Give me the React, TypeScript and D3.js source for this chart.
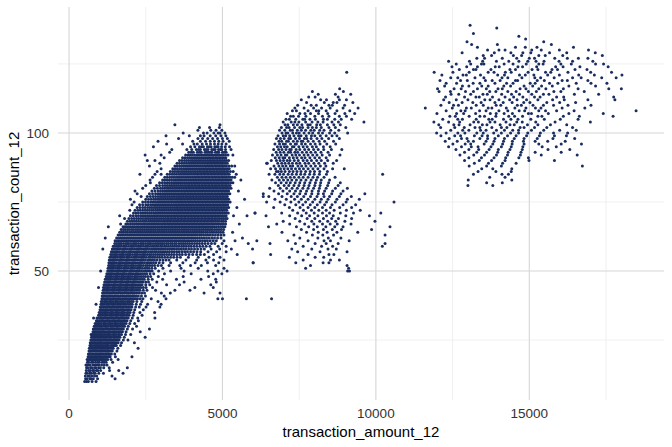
import React from "react";
import * as d3 from "d3";

// transaction_count_12 -> transaction_amount_12 values (in tens)
const mainRows: [number, string][] = [
  [10, "51 57 63 75 88"],
  [11, "54 59 68 71 79 93 150"],
  [12, "53 62 66 74 83 90 140"],
  [13, "55 59 67 72 80 85 97 112 176"],
  [14, "56 64 69 77 81 89 94 103 132 162"],
  [15, "57 61 70 74 83 87 96 102 113 131 190"],
  [16, "55 58 65 69 78 85 91 97 106 115 124"],
  [17, "60 64 73 78 86 93 99 108 114 121 142"],
  [18, "59 68 72 81 88 95 103 109 117 126 137 160"],
  [19, "62 67 76 83 90 97 102 111 119 128 134 151 205"],
  [20, "63 71 76 85 92 99 106 114 121 129 138 149"],
  [21, "65 70 79 87 94 101 108 116 124 130 141 156"],
  [22, "66 74 81 88 96 103 111 119 127 136 144 159 225"],
  [23, "68 73 83 91 98 106 114 122 128 139 147 154 168"],
  [24, "69 77 85 93 101 107 117 125 133 141 150 160 171 213"],
  [25, "71 79 86 95 103 111 119 127 136 145 152 163 177 192"],
  [26, "73 81 89 97 105 113 121 130 137 148 157 166 180 248"],
  [27, "72 75 83 91 99 107 116 125 132 143 150 161 171 184 201"],
  [28, "78 85 93 101 110 117 128 135 146 155 164 174 186 232"],
  [29, "79 87 96 105 112 123 130 141 148 159 168 177 190 207 262"],
  [30, "82 90 99 106 117 124 135 142 153 160 171 181 193 220"],
  [31, "85 94 101 112 119 130 137 148 155 166 175 186 198 214"],
  [32, "89 98 107 114 125 132 143 150 161 168 179 189 201 226"],
  [33, "80 91 102 109 120 127 138 145 156 163 174 181 193 206 224 280"],
  [34, "96 103 114 121 132 139 150 157 168 175 186 196 209 238"],
  [35, "98 107 116 123 134 141 152 159 170 177 189 199 211 231 279"],
  [36, "101 108 119 126 137 144 155 162 173 180 192 202 214 242"],
  [37, "102 112 119 130 137 148 155 166 173 185 193 205 217 229 251 296"],
  [38, "88 104 111 122 129 140 147 158 165 176 184 196 206 219 233 256 300"],
  [39, "105 115 122 133 140 151 158 169 177 189 197 209 221 237 290"],
  [40, "107 114 125 132 143 150 161 169 181 189 201 211 223 241 268 316 485 500 578 660"],
  [41, "108 117 124 135 142 153 161 173 181 193 201 213 226 249 310"],
  [42, "109 116 127 134 146 154 166 174 186 194 206 214 229 246 301 330 440 492"],
  [43, "111 120 127 139 147 159 167 179 187 199 207 219 231 254 282 345 394"],
  [44, "96 112 122 130 142 150 162 170 182 190 202 210 222 234 251 272 410 470"],
  [45, "114 124 132 144 152 164 172 184 192 204 212 225 238 263 318 360 462"],
  [46, "116 126 134 146 154 166 174 186 194 206 215 228 241 259 286 375 480"],
  [47, "118 128 136 148 156 168 176 188 196 209 218 231 245 271 305 350 430 478"],
  [48, "121 131 139 151 159 171 179 191 200 213 222 235 249 266 291 372 455"],
  [49, "123 133 141 153 161 173 181 194 203 216 225 239 253 276 311 398 470 498"],
  [50, "103 126 136 144 156 164 176 184 197 206 219 229 243 257 271 292 331 375 452 485 515"],
  [51, "127 137 145 157 165 178 187 200 209 222 232 247 261 281 306 365 421 505"],
  [52, "129 139 147 159 167 180 189 202 211 225 235 250 263 279 301 326 361 396 431 478"],
  [53, "130 140 148 161 170 183 192 205 215 229 239 254 267 283 306 331 371 411 451 488 600"],
  [54, "131 142 151 164 173 186 195 208 218 232 242 257 271 286 306 326 351 381 416 446 471 505"],
  [55, "133 144 153 166 175 188 197 211 221 235 245 260 273 288 303 321 341 363 389 421 456 492"],
  [56, "136 147 156 169 178 191 200 214 224 238 248 262 275 289 303 318 334 351 369 391 416 441 471 548"],
  [57, "138 149 158 171 180 194 204 218 228 242 252 266 279 292 306 320 335 351 368 386 406 429 453 481 512"],
  [58, "110 141 152 161 174 183 197 207 221 231 245 255 269 281 294 307 321 335 350 365 381 399 419 441 463 491 529"],
  [59, "144 155 164 177 187 201 211 225 235 249 259 273 285 298 311 324 338 352 367 382 398 416 436 459 486 512"],
  [60, "149 161 171 185 195 209 219 233 243 257 267 281 293 305 318 331 344 358 372 386 401 417 434 453 475 499 584 655"],
  [61, "150 163 176 188 200 212 224 236 248 260 272 284 296 308 320 332 345 358 371 384 398 412 427 443 460 480 505 541"],
  [62, "118 155 168 180 192 204 216 228 240 252 264 276 288 300 312 324 336 348 360 372 385 398 411 425 440 456 474 495 565"],
  [63, "160 172 184 196 208 220 232 244 256 268 280 292 304 316 328 340 352 364 376 388 400 412 425 438 452 468 486 505"],
  [64, "165 178 191 204 216 228 240 252 264 276 288 300 312 324 336 348 360 372 384 396 408 420 432 445 458 472 487 502 533"],
  [65, "170 183 196 209 222 234 246 258 270 282 294 306 318 330 342 354 366 378 390 402 414 426 438 450 462 475 489 504"],
  [66, "128 176 188 201 214 227 240 252 264 276 288 300 311 322 333 344 355 366 377 388 399 410 421 432 443 455 467 480 494 508"],
  [67, "168 185 200 214 228 242 255 268 280 292 304 315 326 337 348 359 370 381 392 403 414 425 436 447 458 470 483 496 510 555 677"],
  [68, "190 205 219 233 246 259 271 283 295 307 318 329 340 351 362 373 384 395 406 417 428 439 450 461 472 484 497 510"],
  [69, "181 195 212 227 241 254 266 278 290 302 314 325 336 347 358 369 380 391 402 413 424 435 446 457 468 479 491 503 515"],
  [70, "165 200 218 234 248 261 274 286 298 310 322 334 345 356 367 378 389 400 411 422 433 444 455 466 477 488 500 512 536 580"],
  [71, "210 226 241 255 268 281 293 305 317 329 341 352 363 374 385 396 407 418 429 440 451 462 473 484 495 507 519 606"],
  [72, "198 215 232 248 262 275 288 300 312 324 336 348 359 370 381 392 403 414 425 436 447 458 469 480 491 502 514"],
  [73, "222 240 256 270 283 295 307 319 331 343 354 365 376 387 398 409 420 431 442 453 464 475 486 497 508 520 547"],
  [74, "205 230 250 266 280 292 304 316 328 340 351 362 373 384 395 406 417 428 439 450 461 472 483 494 505 517"],
  [75, "212 240 258 274 288 300 312 324 336 348 359 370 381 392 403 414 425 436 447 458 469 480 491 502 513 525"],
  [76, "200 250 268 283 296 308 320 332 344 355 366 377 388 399 410 421 432 443 454 465 476 487 498 509 520 572"],
  [77, "235 255 274 290 303 315 327 339 351 362 373 384 395 406 417 428 439 450 461 472 483 494 505 516 633"],
  [78, "222 262 282 297 310 322 334 346 358 369 380 391 402 413 424 435 446 457 468 479 490 501 512 524"],
  [79, "215 270 290 305 318 330 342 354 366 377 388 399 410 421 432 443 454 465 476 487 498 509 520 552"],
  [80, "240 278 298 312 325 337 349 361 373 384 395 406 417 428 439 450 461 472 483 494 505 516 528"],
  [81, "250 285 305 320 333 345 357 369 381 392 403 414 425 436 447 458 469 480 491 502 513 525"],
  [82, "265 295 312 327 340 352 364 376 388 399 410 421 432 443 454 465 476 487 498 509 520 534"],
  [83, "264 305 320 334 347 359 371 383 395 406 417 428 439 450 461 472 483 494 505 516 528 560"],
  [84, "272 312 328 342 355 367 379 391 403 414 425 436 447 458 469 480 491 502 513 525 540"],
  [85, "231 280 300 320 336 350 363 375 387 399 411 422 433 444 455 466 477 488 499 510 522 545"],
  [86, "287 330 345 358 371 383 395 407 419 430 441 452 463 474 485 496 507 518 535 682"],
  [87, "300 338 353 366 379 391 403 415 427 438 449 460 471 482 493 504 516"],
  [88, "262 345 360 374 387 399 411 423 435 446 457 468 479 490 501 513 530 540"],
  [89, "296 352 368 382 395 407 419 431 443 454 465 476 487 498 510 644"],
  [90, "255 280 360 376 390 403 415 427 439 451 462 473 484 495 507 520"],
  [91, "310 370 386 400 413 425 437 449 460 471 482 493 505"],
  [92, "248 300 380 395 409 422 434 446 458 469 480 491 503 518 534"],
  [93, "328 390 405 418 431 443 455 466 477 488 500 512"],
  [94, "335 384 400 415 428 441 453 465 476 487 498 510 528"],
  [95, "275 396 410 425 438 451 463 475 486 497 509 523"],
  [96, "318 370 407 418 434 448 461 474 486 498 512"],
  [97, "290 403 428 445 460 474 488 502 522"],
  [98, "357 420 435 452 468 484 500 516"],
  [99, "316 392 428 440 460 478 495 511"],
  [100, "372 438 450 472 486 492 508"],
  [101, "420 462 479 498"],
  [102, "425 458 490"],
  [103, "345 492"],
];

// the overplotted core of the first cluster, where customers sit on top of each other
const mainCoreRows: [number, string][] = [
  [18, "63 70 77 84 91 99 106 113 121"],
  [19, "65 72 79 86 93 100 107 115 123 131"],
  [20, "67 74 81 88 95 103 110 118 125 133"],
  [21, "68 75 83 90 98 105 112 120 127 135"],
  [22, "70 78 85 92 100 107 115 123 131 140"],
  [23, "71 78 87 94 102 110 118 125 134 143 150"],
  [24, "73 81 89 97 104 112 121 129 137 145 155"],
  [25, "75 83 91 99 107 115 123 131 140 148 157"],
  [26, "77 85 93 101 109 117 125 134 143 152 161"],
  [27, "79 87 95 103 111 120 128 137 146 155 165"],
  [28, "81 89 97 105 113 122 131 140 150 159 169"],
  [29, "83 91 100 108 117 126 135 144 153 163 172"],
  [30, "86 94 102 111 120 129 138 147 156 165 176"],
  [31, "89 97 106 115 124 133 142 151 160 170 180"],
  [32, "93 102 110 119 128 137 146 155 164 173 183"],
  [33, "96 105 114 123 132 141 150 159 168 177 187"],
  [34, "99 108 117 126 135 144 153 162 171 180 190"],
  [35, "102 111 119 128 137 146 155 164 173 182 193"],
  [36, "104 113 122 131 140 149 158 167 176 186 196"],
  [37, "106 115 124 133 142 151 160 169 178 188 198"],
  [38, "107 116 125 134 143 152 161 170 180 190 200"],
  [39, "109 118 127 136 145 154 163 173 183 193 203"],
  [40, "111 120 128 137 146 156 165 175 185 195 206 217 232"],
  [41, "112 121 130 139 148 157 167 177 187 197 207 219 236"],
  [42, "113 122 131 140 150 160 170 180 190 200 210 221 237"],
  [43, "115 124 133 143 153 163 173 183 193 203 213 225 242"],
  [44, "117 126 136 146 156 166 176 186 196 206 216 228 242"],
  [45, "119 128 138 148 158 168 178 188 198 208 218 231 250"],
  [46, "121 130 140 150 160 170 180 190 200 210 221 234 250"],
  [47, "123 132 142 152 162 172 182 192 202 213 224 238 258"],
  [48, "126 135 145 155 165 175 185 195 206 217 228 242 257"],
  [49, "128 137 147 157 167 177 187 198 209 220 232 246 264"],
  [50, "131 140 150 160 170 180 190 201 212 224 236 250 264"],
  [51, "132 141 151 161 171 182 193 204 215 227 239 254 270"],
  [52, "134 143 153 163 173 184 195 206 218 230 242 256 271 290"],
  [53, "135 144 154 165 176 187 198 210 222 234 246 260 275 294"],
  [54, "136 146 157 168 179 190 201 213 225 237 249 264 278 296 316"],
  [55, "138 148 159 170 181 192 204 216 228 240 252 266 280 295 312 331 352"],
  [56, "141 152 163 174 185 196 207 219 231 243 255 268 282 296 310 326 342 360 380 403 428"],
  [57, "143 154 164 176 187 199 211 223 235 247 259 272 285 299 313 327 343 359 377 396 417"],
  [58, "146 157 167 179 190 202 214 226 238 250 262 275 287 300 314 328 342 357 373 390 409 430"],
  [59, "149 160 170 182 194 206 218 230 242 254 266 279 291 304 317 331 345 359 374 390 407 426 447"],
  [60, "155 166 178 190 202 214 226 238 250 262 274 287 299 311 324 337 350 365 379 393 409 425 443 464"],
  [61, "157 170 182 194 206 218 230 242 254 266 278 290 302 314 326 338 351 364 377 391 405 419 435 451 470"],
  [62, "162 174 186 198 210 222 234 246 258 270 282 294 306 318 330 342 354 366 378 391 404 418 432 448 465 484"],
  [63, "166 178 190 202 214 226 238 250 262 274 286 298 310 322 334 346 358 370 382 394 406 418 431 445 460 477 495"],
  [64, "172 185 198 210 222 234 246 258 270 282 294 306 318 330 342 354 366 378 390 402 414 426 438 451 465 480 494"],
  [65, "177 190 203 216 228 240 252 264 276 288 300 312 324 336 348 360 372 384 396 408 420 432 444 456 468 482 496"],
  [66, "182 195 208 221 234 246 258 270 282 294 305 316 327 338 349 360 371 382 393 404 415 426 437 449 461 473 487 501"],
  [67, "192 207 221 235 248 261 274 286 298 310 321 331 342 353 364 375 386 397 408 419 430 441 452 464 476 489 503"],
  [68, "198 212 226 240 252 265 277 289 301 312 323 334 345 356 367 378 389 400 411 422 433 444 455 466 478 490 503"],
  [69, "204 220 234 248 260 272 284 296 308 320 331 342 353 364 375 386 397 408 419 430 441 452 463 474 485 497 509"],
  [70, "209 226 241 255 268 280 292 304 316 328 340 351 362 373 384 395 406 417 428 439 450 461 472 483 494 506"],
  [71, "218 234 248 262 275 287 299 311 323 335 347 358 369 380 391 402 413 424 435 446 457 468 479 490 501 513"],
  [72, "224 240 255 269 282 294 306 318 330 342 354 365 376 387 398 409 420 431 442 453 464 475 486 497 508"],
  [73, "231 248 263 277 289 301 313 325 337 349 360 371 382 393 404 415 426 437 448 459 470 481 492 503 514"],
  [74, "240 258 273 286 298 310 322 334 346 357 368 379 390 401 412 423 434 445 456 467 478 489 500 511"],
  [75, "249 266 281 294 306 318 330 342 354 365 376 387 398 409 420 431 442 453 464 475 486 497 508 519"],
  [76, "259 276 290 302 314 326 338 350 361 372 383 394 405 416 427 438 449 460 471 482 493 504 515"],
  [77, "265 282 297 309 321 333 345 357 368 379 390 401 412 423 434 445 456 467 478 489 500 511"],
  [78, "272 290 304 316 328 340 352 364 375 386 397 408 419 430 441 452 463 474 485 496 507 518"],
  [79, "280 298 312 324 336 348 360 372 383 394 405 416 427 438 449 460 471 482 493 504 515"],
  [80, "288 305 319 331 343 355 367 379 390 401 412 423 434 445 456 467 478 489 500 511 522"],
  [81, "295 313 327 339 351 363 375 387 398 409 420 431 442 453 464 475 486 497 508 519"],
  [82, "304 320 334 346 358 370 382 394 405 416 427 438 449 460 471 482 493 504 515 527"],
  [83, "312 327 341 353 365 377 389 401 412 423 434 445 456 467 478 489 500 511 522"],
  [84, "320 335 349 361 373 385 397 409 420 431 442 453 464 475 486 497 508 519 532"],
  [85, "328 343 357 369 381 393 405 417 428 439 450 461 472 483 494 505 516"],
  [86, "338 352 365 377 389 401 413 425 436 447 458 469 480 491 502 513 526"],
  [87, "346 360 373 385 397 409 421 433 444 455 466 477 488 499 510 522"],
  [88, "352 367 381 393 405 417 429 441 452 463 474 485 496 507 521"],
  [89, "360 375 389 401 413 425 437 449 460 471 482 493 504 516"],
  [90, "368 383 397 409 421 433 445 457 468 479 490 501 513"],
  [91, "378 393 407 419 431 443 455 466 477 488 499 511"],
  [92, "388 402 416 428 440 452 464 475 486 497 510"],
  [93, "398 425 449 461 483 506"],
  [94, "422 447 471 493"],
  [95, "432 457 481"],
];

const midRows: [number, string][] = [
  [122, "905"],
  [116, "882"],
  [115, "793 894"],
  [114, "812 868 918"],
  [113, "781 802 877"],
  [112, "757 820 839 881 904"],
  [111, "774 832 861 873 925"],
  [110, "745 789 806 847 858 898"],
  [109, "736 766 797 823 851 893 942"],
  [108, "728 741 779 806 814 838 873 915"],
  [107, "711 752 769 787 813 843 867 899 931"],
  [106, "722 731 748 772 801 826 847 881 904"],
  [105, "707 718 739 762 768 785 803 829 842 866 887 921"],
  [104, "698 724 736 749 771 792 811 828 857 878 961"],
  [103, "704 713 731 744 759 778 786 807 819 842 863 884"],
  [102, "692 709 717 735 752 761 779 793 806 822 847 868 902"],
  [101, "686 703 721 728 744 757 771 788 799 817 831 853 879"],
  [100, "694 707 713 729 741 750 766 782 794 813 826 849 866 908"],
  [99, "681 698 706 719 733 748 756 773 790 801 819 838 857 873"],
  [98, "676 689 701 716 722 738 751 767 775 789 808 824 846 881"],
  [97, "684 693 709 715 731 744 757 762 779 796 815 833 862"],
  [96, "671 686 698 705 722 737 741 758 770 787 802 818 840 869"],
  [95, "679 690 702 711 728 733 749 763 776 793 806 829 851"],
  [94, "667 683 694 707 719 724 740 752 768 781 797 812 830 855 889"],
  [93, "675 688 700 715 722 736 745 760 774 788 803 821 844"],
  [92, "663 679 691 705 710 727 739 751 766 779 794 808 825 849 883"],
  [91, "672 685 697 703 718 731 743 758 769 785 801 816 838"],
  [90, "659 676 688 699 711 720 734 747 763 776 790 807 822 843 872"],
  [89, "646 680 693 704 716 728 741 752 769 781 798 814 833 861"],
  [88, "668 684 696 707 721 729 746 758 772 788 803 819 837"],
  [87, "657 673 689 701 713 725 738 751 764 779 795 811 831 859 897"],
  [86, "676 692 704 718 730 743 756 771 786 800 817 842"],
  [85, "652 671 687 699 714 727 741 755 768 784 799 816 839 1022"],
  [84, "679 694 707 721 734 749 763 779 795 810 831 867"],
  [83, "661 685 699 713 726 741 756 772 789 806 822 849"],
  [82, "673 691 708 721 737 752 768 785 803 820 846 884"],
  [81, "682 701 716 733 749 766 782 801 818 843 877"],
  [80, "654 688 709 727 744 762 779 797 816 838 868 907"],
  [79, "668 697 719 738 755 774 792 813 833 859 893"],
  [78, "633 683 711 733 752 771 791 812 829 856 886 964"],
  [77, "651 694 724 744 765 787 808 831 849 881 920"],
  [76, "671 708 735 757 779 801 822 844 873 907 946"],
  [75, "644 688 723 749 771 794 818 839 868 903 1059"],
  [74, "703 739 762 786 809 833 857 893 934"],
  [73, "667 718 753 779 801 826 852 882 921"],
  [72, "729 764 790 814 838 864 904 949"],
  [71, "606 693 745 773 799 826 849 884 927 1016"],
  [70, "642 719 758 784 811 839 861 902 979"],
  [69, "737 776 801 829 856 878 921"],
  [68, "698 752 791 817 843 869 899 997"],
  [67, "719 768 798 826 851 874 919"],
  [66, "650 741 781 809 837 866 893 1046"],
  [65, "757 797 829 858 888 986"],
  [64, "694 774 812 841 873 941"],
  [63, "733 793 827 862 1030"],
  [62, "752 811 845 886"],
  [61, "612 713 779 831 852 913"],
  [60, "738 802 838 877 1030"],
  [59, "763 823 859 1021"],
  [58, "598 726 791 844 871"],
  [57, "745 818 906"],
  [56, "657 779 847 863"],
  [55, "718 802 830"],
  [54, "763 852 881"],
  [53, "600 739 828 847"],
  [52, "787 906"],
  [51, "771 911"],
  [50, "908 914"],
];

const highRows: [number, string][] = [
  [139, "1307"],
  [138, "1394"],
  [136, "1318"],
  [135, "1466"],
  [134, "1488"],
  [133, "1297 1547"],
  [132, "1312 1396 1572"],
  [131, "1331 1455 1487 1525 1644"],
  [130, "1364 1401 1421 1508 1539 1598 1693"],
  [129, "1281 1386 1440 1479 1505 1566 1622 1715"],
  [128, "1350 1377 1448 1475 1531 1552 1609 1738"],
  [127, "1329 1354 1412 1459 1500 1517 1583 1624 1660 1691"],
  [126, "1237 1305 1348 1393 1433 1466 1495 1522 1548 1597 1641 1707"],
  [125, "1262 1309 1344 1352 1418 1447 1490 1531 1545 1603 1637 1716 1742"],
  [124, "1248 1296 1331 1389 1402 1463 1478 1524 1586 1610 1665 1757"],
  [123, "1272 1318 1326 1375 1437 1455 1509 1528 1574 1592 1649 1688"],
  [122, "1190 1251 1304 1366 1385 1422 1441 1496 1553 1570 1626 1700 1768"],
  [121, "1215 1284 1295 1341 1397 1419 1468 1487 1515 1560 1598 1661 1712 1802"],
  [120, "1244 1267 1323 1352 1411 1430 1476 1518 1537 1581 1641 1669 1736 1783"],
  [119, "1209 1276 1298 1357 1379 1405 1455 1462 1526 1549 1607 1624 1691"],
  [118, "1229 1263 1317 1339 1388 1426 1447 1503 1519 1566 1593 1653 1701 1753"],
  [117, "1224 1282 1303 1345 1366 1417 1439 1483 1511 1540 1575 1629 1716"],
  [116, "1201 1255 1278 1331 1360 1398 1412 1470 1489 1531 1554 1611 1659 1759 1800"],
  [115, "1206 1243 1292 1318 1371 1391 1430 1457 1497 1523 1580 1603 1679"],
  [114, "1245 1270 1309 1349 1363 1410 1442 1468 1508 1546 1564 1647 1726"],
  [113, "1227 1289 1326 1337 1380 1421 1449 1479 1517 1535 1589 1612 1775"],
  [112, "1221 1262 1300 1355 1372 1401 1436 1460 1491 1528 1576 1614 1691 1779"],
  [111, "1239 1281 1316 1343 1388 1415 1444 1482 1502 1557 1599 1651"],
  [110, "1212 1253 1269 1327 1350 1392 1407 1461 1474 1512 1546 1579 1626 1701"],
  [109, "1161 1249 1295 1311 1366 1378 1425 1453 1489 1520 1538 1607 1681"],
  [108, "1229 1277 1291 1338 1359 1401 1430 1467 1485 1531 1553 1589 1646 1848"],
  [107, "1199 1263 1286 1325 1373 1392 1418 1445 1497 1507 1562 1629 1741"],
  [106, "1241 1259 1304 1339 1354 1391 1433 1452 1478 1528 1541 1611 1663 1773"],
  [105, "1218 1267 1282 1327 1368 1379 1416 1440 1463 1505 1549 1601 1659"],
  [104, "1189 1237 1273 1319 1334 1372 1388 1424 1459 1477 1521 1584 1699"],
  [103, "1205 1254 1271 1307 1347 1362 1405 1437 1451 1494 1528 1569 1622"],
  [102, "1211 1257 1288 1323 1339 1378 1409 1427 1470 1483 1517 1557 1641"],
  [101, "1244 1283 1303 1341 1359 1393 1419 1446 1465 1507 1547 1599 1653"],
  [100, "1198 1229 1267 1290 1329 1350 1384 1409 1439 1465 1495 1536 1579 1625"],
  [99, "1212 1257 1276 1321 1346 1364 1399 1429 1457 1491 1533 1582 1621"],
  [98, "1239 1279 1297 1339 1364 1388 1419 1451 1483 1526 1577 1648"],
  [97, "1226 1265 1301 1318 1359 1385 1416 1445 1481 1519 1560 1617"],
  [96, "1251 1291 1309 1353 1381 1413 1444 1483 1531 1604 1670"],
  [95, "1237 1279 1311 1333 1375 1409 1441 1479 1542 1588"],
  [94, "1261 1303 1335 1369 1399 1437 1477 1561 1632"],
  [93, "1289 1329 1361 1397 1431 1473 1519 1604"],
  [92, "1274 1319 1354 1393 1429 1471 1539 1656"],
  [91, "1303 1344 1385 1423 1466 1497"],
  [90, "1289 1337 1377 1421 1499 1582"],
  [89, "1321 1367 1413 1457"],
  [88, "1304 1361 1409 1673"],
  [87, "1345 1381 1443"],
  [86, "1333 1391 1441"],
  [85, "1318 1411 1432"],
  [84, "1371 1421"],
  [83, "1301 1443"],
  [82, "1361 1412"],
  [81, "1300 1381"],
];

const xTicks = [0, 5000, 10000, 15000];
const xMinor = [2500, 7500, 12500, 17500];
const yTicks = [50, 100];
const yMinor = [25, 75, 125];

const W = 672;
const H = 447;
const panel = { left: 58, right: 664, top: 7, bottom: 400 };

const toPoints = (rows: [number, string][]) =>
  rows.flatMap(([count, s]) =>
    s.split(" ").map((v) => ({ amount: +v * 10, count }))
  );

const points = [
  ...toPoints(mainRows),
  ...toPoints(mainCoreRows),
  ...toPoints(midRows),
  ...toPoints(highRows),
];

export default function App() {
  const x = d3.scaleLinear().domain([-360, 19390]).range([panel.left, panel.right]);
  const y = d3.scaleLinear().domain([3.3, 145.6]).range([panel.bottom, panel.top]);
  const font = "'Liberation Sans', Arial, sans-serif";

  return (
    <svg width={W} height={H} style={{ position: "absolute", left: 0, top: 0, background: "#fff" }}>
      <g>
        {xMinor.map((t) => (
          <line key={"xm" + t} x1={x(t)} x2={x(t)} y1={panel.top} y2={panel.bottom} stroke="#ececec" strokeWidth={0.8} />
        ))}
        {yMinor.map((t) => (
          <line key={"ym" + t} x1={panel.left} x2={panel.right} y1={y(t)} y2={y(t)} stroke="#ececec" strokeWidth={0.8} />
        ))}
        {xTicks.map((t) => (
          <line key={"x" + t} x1={x(t)} x2={x(t)} y1={panel.top} y2={panel.bottom} stroke="#d6d6d6" strokeWidth={1.1} />
        ))}
        {yTicks.map((t) => (
          <line key={"y" + t} x1={panel.left} x2={panel.right} y1={y(t)} y2={y(t)} stroke="#d6d6d6" strokeWidth={1.1} />
        ))}
      </g>
      <g fill="#1a2d60">
        {points.map((d, i) => (
          <circle key={i} cx={x(d.amount)} cy={y(d.count)} r={1.5} />
        ))}
      </g>
      <g fontFamily={font} fontSize={13.5} fill="#333">
        {xTicks.map((t) => (
          <text key={t} x={x(t)} y={418} textAnchor="middle">{t}</text>
        ))}
        {yTicks.map((t) => (
          <text key={t} x={49} y={y(t)} dy="0.35em" textAnchor="end">{t}</text>
        ))}
      </g>
      <text x={(panel.left + panel.right) / 2} y={437} textAnchor="middle" fontFamily={font} fontSize={15} fill="#000">
        transaction_amount_12
      </text>
      <text
        transform={`translate(19,${(panel.top + panel.bottom) / 2}) rotate(-90)`}
        textAnchor="middle"
        fontFamily={font}
        fontSize={15}
        fill="#000"
      >
        transaction_count_12
      </text>
    </svg>
  );
}
